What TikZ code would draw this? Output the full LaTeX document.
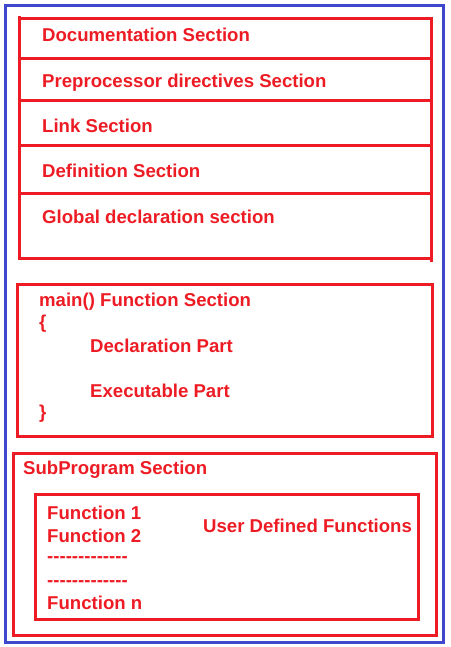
\documentclass[tikz,border=0pt]{standalone}
\usepackage{fontspec}
\newfontfamily\diagfont{Liberation Sans}
\definecolor{secred}{RGB}{237,28,36}
\definecolor{frameblue}{RGB}{63,72,204}
\begin{document}
\begin{tikzpicture}[x=1pt,y=-1pt,
    box/.style={draw=secred,line width=3pt},
    txt/.style={anchor=base west,inner sep=0pt,text=secred,
      font=\diagfont\bfseries\fontsize{18.6}{22}\selectfont}]

  \useasboundingbox (0,0) rectangle (450,647);
  \draw[frameblue,line width=3pt] (5,6) rectangle (443,642);

  % stacked sections
  \draw[box] (19,16) -- (19,258) -- (431,258);
  \draw[box] (21,19) -- (431,19) -- (431,262);
  \foreach \y in {59,101,146,193}
    \draw[box] (19,\y) -- (433,\y);

  \node[txt] (doc)  at (42,42)  {Documentation Section};
  \node[txt] (pre)  at (42,88)  {Preprocessor directives Section};
  \node[txt] (link) at (42,133) {Link Section};
  \node[txt] (def)  at (42,178) {Definition Section};
  \node[txt] (glob) at (42,223) {Global declaration section};

  % main function
  \draw[box] (17,284) rectangle (432,436);
  \node[txt] (main)  at (39,306) {main() Function Section};
  \node[txt] (open)  at (39,328) {\{};
  \node[txt] (decl)  at (90,352) {Declaration Part};
  \node[txt] (exec)  at (90,397) {Executable Part};
  \node[txt] (close) at (39,418) {\}};

  % subprograms
  \draw[box] (13,453) rectangle (436,635);
  \draw[box] (35,494) rectangle (418,619);
  \node[txt] (sub)  at (23,474) {SubProgram Section};
  \node[txt] (fa)   at (47,519) {Function 1};
  \node[txt] (fb)   at (47,542) {Function 2};
  \node[txt] (da)   at (47,562) {-------------};
  \node[txt] (db)   at (47,586) {-------------};
  \node[txt] (fn)   at (47,609) {Function n};
  \node[txt] (user) at (203,532) {User Defined Functions};
\end{tikzpicture}
\end{document}
